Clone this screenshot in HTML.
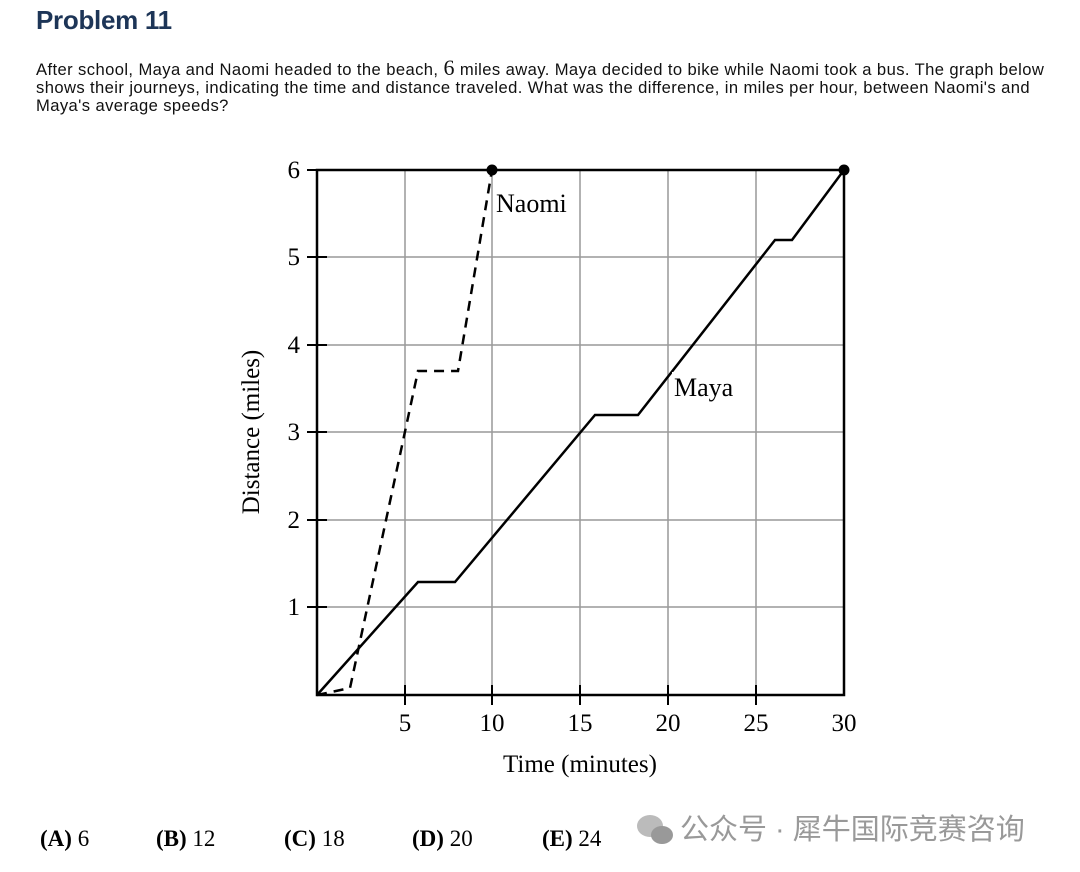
<!DOCTYPE html>
<html><head><meta charset="utf-8"><style>
body{margin:0;width:1080px;height:872px;background:#fff;overflow:hidden;position:relative;font-family:"Liberation Sans",sans-serif;}
h1{position:absolute;left:36px;top:5px;margin:0;font-size:26px;font-weight:bold;color:#1d3557;letter-spacing:-0.3px}
p{position:absolute;left:36px;top:61px;margin:0;font-size:16.6px;line-height:18px;white-space:nowrap;color:#111;letter-spacing:0.4px}
</style></head><body>
<h1>Problem 11</h1>
<p>After school, Maya and Naomi headed to the beach, <span style="font-family:'Liberation Serif',serif;font-size:22px;line-height:10px">6</span> miles away. Maya decided to bike while Naomi took a bus. The graph below<br>shows their journeys, indicating the time and distance traveled. What was the difference, in miles per hour, between Naomi's and<br>Maya's average speeds?</p>
<svg width="1080" height="872" style="position:absolute;left:0;top:0" font-family="Liberation Serif, serif">
<g stroke="#999" stroke-width="1.5">
<line x1="405" y1="170" x2="405" y2="695"/><line x1="492" y1="170" x2="492" y2="695"/><line x1="580" y1="170" x2="580" y2="695"/><line x1="668" y1="170" x2="668" y2="695"/><line x1="756" y1="170" x2="756" y2="695"/>
<line x1="317" y1="257" x2="844" y2="257"/><line x1="317" y1="345" x2="844" y2="345"/><line x1="317" y1="432" x2="844" y2="432"/><line x1="317" y1="520" x2="844" y2="520"/><line x1="317" y1="607" x2="844" y2="607"/>
</g>
<rect x="317" y="170" width="527" height="525" fill="none" stroke="#000" stroke-width="2.5"/>
<g stroke="#000" stroke-width="2">
<line x1="307" y1="170" x2="327" y2="170"/><line x1="307" y1="257" x2="327" y2="257"/><line x1="307" y1="345" x2="327" y2="345"/><line x1="307" y1="432" x2="327" y2="432"/><line x1="307" y1="520" x2="327" y2="520"/><line x1="307" y1="607" x2="327" y2="607"/>
<line x1="405" y1="685" x2="405" y2="705"/><line x1="492" y1="685" x2="492" y2="705"/><line x1="580" y1="685" x2="580" y2="705"/><line x1="668" y1="685" x2="668" y2="705"/><line x1="756" y1="685" x2="756" y2="705"/>
</g>
<g font-size="25" text-anchor="end">
<text x="300" y="178">6</text><text x="300" y="265">5</text><text x="300" y="353">4</text><text x="300" y="440">3</text><text x="300" y="528">2</text><text x="300" y="615">1</text></g>
<g font-size="25" text-anchor="middle">
<text x="405" y="731">5</text><text x="492" y="731">10</text><text x="580" y="731">15</text><text x="668" y="731">20</text><text x="756" y="731">25</text><text x="844" y="731">30</text>
<text x="580" y="772">Time (minutes)</text>
<text transform="translate(259,432) rotate(-90)">Distance (miles)</text></g>
<polyline points="317,695 350,688 418,371 458,371 492,170" fill="none" stroke="#000" stroke-width="2.5" stroke-dasharray="10,7"/>
<polyline points="317,695 418,582 455,582 595,415 638,415 775,240 792,240 844,170" fill="none" stroke="#000" stroke-width="2.5"/>
<circle cx="492" cy="170" r="5.5"/><circle cx="844" cy="170" r="5.5"/>
<rect x="494" y="188" width="84" height="30" fill="#fff"/>
<text x="496" y="212" font-size="26">Naomi</text>
<rect x="672" y="372" width="72" height="30" fill="#fff"/>
<text x="674" y="396" font-size="26">Maya</text>
<g font-size="23">
<text x="40" y="846"><tspan font-weight="bold">(A)</tspan> 6</text>
<text x="156" y="846"><tspan font-weight="bold">(B)</tspan> 12</text>
<text x="284" y="846"><tspan font-weight="bold">(C)</tspan> 18</text>
<text x="412" y="846"><tspan font-weight="bold">(D)</tspan> 20</text>
<text x="542" y="846"><tspan font-weight="bold">(E)</tspan> 24</text></g>
<ellipse cx="650" cy="826" rx="13" ry="11" fill="#bbb"/><ellipse cx="662" cy="835" rx="11" ry="9" fill="#999"/>
<text x="680" y="839" font-size="29" fill="#999" font-family="Liberation Sans, Noto Sans CJK SC, sans-serif">公众号 · 犀牛国际竞赛咨询</text>
</svg>
</body></html>
